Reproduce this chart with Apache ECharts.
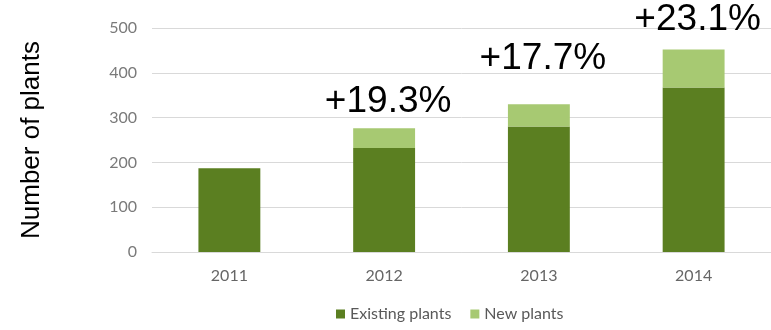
<!DOCTYPE html>
<html>
<head>
<meta charset="utf-8">
<script src="https://cdn.jsdelivr.net/npm/echarts@6/dist/echarts.min.js"></script>
<style>
  html, body { margin: 0; padding: 0; background: #ffffff; }
  #chart { width: 771px; height: 330px; }
</style>
</head>
<body>
<div id="chart"></div>
<script>
// Plant counts per year, split into plants already running and newly added ones
const years = ['2011', '2012', '2013', '2014'];
const existingPlants = [187, 232, 280, 367];
const newPlants = [0, 44, 50, 85];
const growthLabels = ['', '+19.3%', '+17.7%', '+23.1%'];
const yTicks = { min: 0, max: 500, interval: 100 };

// Distance of each growth label above its stacked bar
const growthLabelLift = [0, 8, 27, 11];

const chart = echarts.init(document.getElementById('chart'), null, { renderer: 'canvas' });

const axisFont = 'Lato, "Open Sans", sans-serif';

chart.setOption({
  animation: false,
  backgroundColor: '#ffffff',
  grid: { left: 152, right: 0, top: 28, bottom: 78, containLabel: false },
  legend: {
    left: 331,
    top: 301,
    icon: 'rect',
    itemWidth: 9,
    itemHeight: 9,
    itemGap: 19,
    textStyle: { fontFamily: axisFont, fontSize: 16, color: '#595959' },
    data: ['Existing plants', 'New plants']
  },
  xAxis: {
    type: 'category',
    data: years,
    axisTick: { show: false },
    axisLine: { lineStyle: { color: '#d9d9d9', width: 1 } },
    axisLabel: { fontFamily: axisFont, fontSize: 16, color: '#666666', margin: 16 }
  },
  yAxis: {
    type: 'value',
    min: yTicks.min,
    max: yTicks.max,
    interval: yTicks.interval,
    name: 'Number of plants',
    nameLocation: 'middle',
    nameGap: 107,
    nameTextStyle: { fontFamily: 'Arial, "Liberation Sans", sans-serif', fontSize: 26, color: '#000000' },
    axisLine: { show: false },
    axisTick: { show: false },
    splitLine: { lineStyle: { color: '#d9d9d9', width: 1 } },
    axisLabel: { fontFamily: axisFont, fontSize: 16, color: '#7a7a7a', margin: 15 }
  },
  series: [
    {
      name: 'Existing plants',
      type: 'bar',
      stack: 'plants',
      barWidth: '40%',
      itemStyle: { color: '#5b7f21' },
      data: existingPlants
    },
    {
      name: 'New plants',
      type: 'bar',
      stack: 'plants',
      barWidth: '40%',
      itemStyle: { color: '#a7c972' },
      data: newPlants.map((v, i) => ({
        value: v,
        label: {
          show: growthLabels[i] !== '',
          position: 'top',
          distance: growthLabelLift[i],
          offset: [4, 0],
          formatter: growthLabels[i],
          fontFamily: 'Arial, "Liberation Sans", sans-serif',
          fontSize: 37,
          color: '#000000'
        }
      }))
    }
  ]
});
</script>
</body>
</html>
